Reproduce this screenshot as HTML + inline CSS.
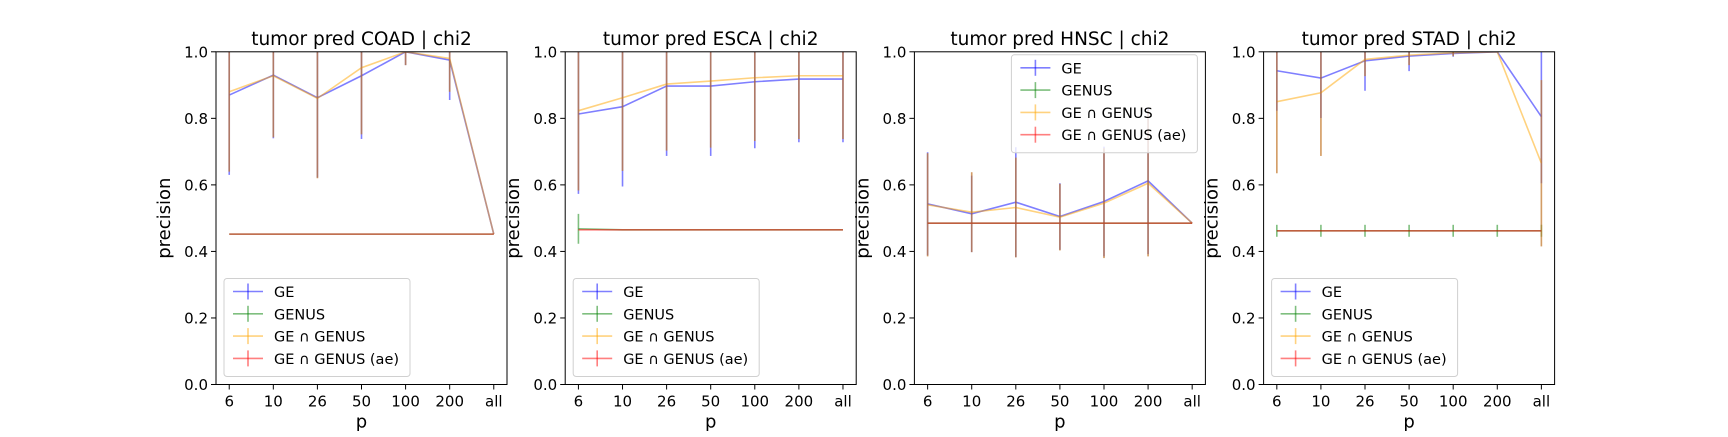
<!DOCTYPE html>
<html><head><meta charset="utf-8"><style>
body{margin:0;background:#fff}
svg text{font-family:"DejaVu Sans","Liberation Sans",sans-serif}
</style></head><body>
<svg id="fig" width="1728" height="432" xmlns="http://www.w3.org/2000/svg"></svg>
<script>
const categories = ["6","10","26","50","100","200","all"];
const yTicks = [0,0.2,0.4,0.6,0.8,1.0];
const titles = ["tumor pred COAD | chi2","tumor pred ESCA | chi2","tumor pred HNSC | chi2","tumor pred STAD | chi2"];
const seriesNames = ["GE","GENUS","GE ∩ GENUS","GE ∩ GENUS (ae)"];
// COAD
const coadGE = [0.87,0.93,0.862,0.928,1.0,0.975,0.452];
const coadGEErr = [0.24,0.19,0.24,0.19,0.04,0.12,0];
const coadGenus = [0.452,0.452,0.452,0.452,0.452,0.452,0.452];
const coadGenusErr = [0,0,0,0,0,0,0];
const coadBoth = [0.88,0.928,0.86,0.952,1.0,0.98,0.452];
const coadBothErr = [0.24,0.185,0.24,0.2,0.04,0.1,0];
const coadAe = [0.452,0.452,0.452,0.452,0.452,0.452,0.452];
// ESCA
const escaGE = [0.813,0.835,0.897,0.897,0.91,0.918,0.918];
const escaGEErr = [0.24,0.24,0.21,0.21,0.2,0.19,0.19];
const escaGenus = [0.468,0.465,0.465,0.465,0.465,0.465,0.465];
const escaGenusErr = [0.045,0,0,0,0,0,0];
const escaBoth = [0.823,0.862,0.903,0.912,0.922,0.928,0.928];
const escaBothErr = [0.24,0.22,0.2,0.2,0.19,0.19,0.19];
const escaAe = [0.465,0.465,0.465,0.465,0.465,0.465,0.465];
// HNSC
const hnscGE = [0.543,0.513,0.548,0.505,0.55,0.612,0.485];
const hnscGEErr = [0.155,0.115,0.165,0.1,0.165,0.22,0];
const hnscGenus = [0.485,0.485,0.485,0.485,0.485,0.485,0.485];
const hnscGenusErr = [0,0,0,0,0,0,0];
const hnscBoth = [0.54,0.518,0.532,0.503,0.545,0.605,0.485];
const hnscBothErr = [0.155,0.12,0.15,0.1,0.165,0.22,0];
const hnscAe = [0.485,0.485,0.485,0.485,0.485,0.485,0.485];
// STAD
const stadGE = [0.943,0.921,0.973,0.987,0.995,1.0,0.805];
const stadGEErr = [0.12,0.12,0.09,0.045,0.01,0,0.2];
const stadGenus = [0.462,0.462,0.462,0.462,0.462,0.462,0.462];
const stadGenusErr = [0.018,0.018,0.018,0.018,0.018,0.018,0.018];
const stadBoth = [0.85,0.877,0.977,0.99,0.997,1.0,0.665];
const stadBothErr = [0.215,0.19,0.05,0.03,0.01,0,0.25];
const stadAe = [0.462,0.462,0.462,0.462,0.462,0.462,0.462];

const panels = [
 {ge:coadGE,geE:coadGEErr,gn:coadGenus,gnE:coadGenusErr,b:coadBoth,bE:coadBothErr,ae:coadAe,leg:"ll"},
 {ge:escaGE,geE:escaGEErr,gn:escaGenus,gnE:escaGenusErr,b:escaBoth,bE:escaBothErr,ae:escaAe,leg:"ll"},
 {ge:hnscGE,geE:hnscGEErr,gn:hnscGenus,gnE:hnscGenusErr,b:hnscBoth,bE:hnscBothErr,ae:hnscAe,leg:"ur"},
 {ge:stadGE,geE:stadGEErr,gn:stadGenus,gnE:stadGenusErr,b:stadBoth,bE:stadBothErr,ae:stadAe,leg:"ll"}
];
const colors = ["#0000ff","#008000","#ffa500","#ff0000"];
const barColors = ["#0000ff","#008000","#ffa500","#9c5a4a"];
const barOpacity = [0.5,0.5,0.5,0.45];
const svg = document.getElementById('fig');
const NS = "http://www.w3.org/2000/svg";
function mk(tag, attrs, parent){const e=document.createElementNS(NS,tag);for(const k in attrs)e.setAttribute(k,attrs[k]);(parent||svg).appendChild(e);return e;}
const W=291, plotTop=51.8, plotBot=384.5;
panels.forEach((p,pi)=>{
  const x0 = 216 + pi*349.2;
  const g = mk('g',{});
  
  
  const xs = i => x0 + (i+0.3)/6.6*W;
  const ys = v => plotBot - Math.max(0,Math.min(1,v))*(plotBot-plotTop);
  const clipId='c'+pi;
  const cp=mk('clipPath',{id:clipId},g); mk('rect',{x:x0,y:plotTop,width:W,height:plotBot-plotTop},cp);
  const plot = mk('g',{'clip-path':'url(#'+clipId+')'},g);
  const ser = [[p.ge,p.geE],[p.gn,p.gnE],[p.b,p.bE],[p.ae,p.bE]];
  ser.forEach((s,si)=>{
    const sg = mk('g',{},plot);
    
    
    let d='';
    s[0].forEach((v,i)=>{d+=(i?'L':'M')+xs(i)+' '+ys(v);});
    const ln=mk('path',{d:d,fill:'none',stroke:colors[si],'stroke-opacity':0.5,'stroke-width':1.6},sg);
    
    
    s[0].forEach((v,i)=>{
      const e = s[1][i];
      const c = si===3 ? p.b[i] : v;
      if(e<=0) return;
      const eb=mk('line',{x1:xs(i),x2:xs(i),y1:ys(c-e),y2:ys(c+e),stroke:barColors[si],'stroke-opacity':barOpacity[si],'stroke-width':1.6},sg);
      
      
    });
  });
  mk('rect',{x:x0,y:plotTop,width:W,height:plotBot-plotTop,fill:'none',stroke:'#000','stroke-width':1},g);
  yTicks.forEach(t=>{
    mk('line',{x1:x0-5,x2:x0,y1:ys(t),y2:ys(t),stroke:'#000'},g);
    const tx=mk('text',{x:x0-8,y:ys(t)+5.5,'text-anchor':'end','font-size':15},g);tx.textContent=t.toFixed(1);
    
    
  });
  categories.forEach((c,i)=>{
    mk('line',{x1:xs(i),x2:xs(i),y1:plotBot,y2:plotBot+5,stroke:'#000'},g);
    const tx=mk('text',{x:xs(i),y:plotBot+22,'text-anchor':'middle','font-size':15},g);tx.textContent=c;
    
    
  });
  const tt=mk('text',{x:x0+W/2,y:plotTop-7,'text-anchor':'middle','font-size':18.5},g);tt.textContent=titles[pi];
  
  
  const xl=mk('text',{x:x0+W/2,y:plotBot+43,'text-anchor':'middle','font-size':18},g);xl.textContent='p';
  
  
  const yl=mk('text',{x:0,y:0,'text-anchor':'middle','font-size':18,transform:`translate(${x0-46},${(plotTop+plotBot)/2}) rotate(-90)`},g);yl.textContent='precision';
  
  
  const lw=186, lh=98;
  const lx = p.leg==='ll' ? x0+8 : x0+W-lw-8;
  const ly = p.leg==='ll' ? plotBot-lh-8 : plotTop+3;
  const lg=mk('g',{},g);
  
  
  mk('rect',{x:lx,y:ly,width:lw,height:lh,rx:3,fill:'#fff','fill-opacity':0.8,stroke:'#d0d0d0'},lg);
  seriesNames.forEach((n,si)=>{
    const yy=ly+13+si*22.3;
    const e=mk('g',{},lg);
    
    
    mk('line',{x1:lx+9,x2:lx+39,y1:yy,y2:yy,stroke:colors[si],'stroke-opacity':0.5,'stroke-width':1.6},e);
    mk('line',{x1:lx+24,x2:lx+24,y1:yy-8,y2:yy+8,stroke:colors[si],'stroke-opacity':0.5,'stroke-width':1.6},e);
    const t=mk('text',{x:lx+50,y:yy+5.5,'font-size':14.5},e);t.textContent=n;
  });
});
</script>
</body></html>
